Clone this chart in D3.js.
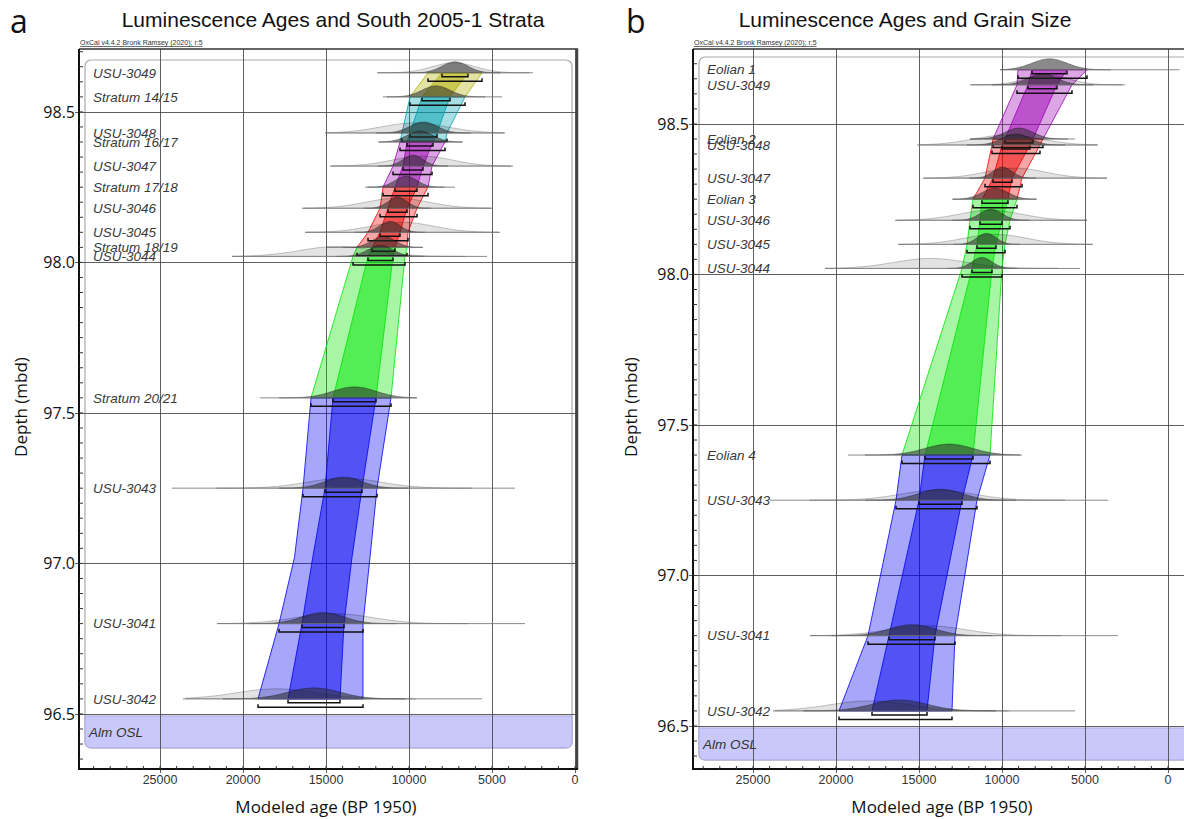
<!DOCTYPE html>
<html>
<head>
<meta charset="utf-8">
<script src="https://cdn.jsdelivr.net/npm/d3@7"></script>
<style>
body { margin: 0; background: #fff; }
svg text { font-family: Arial, "Liberation Sans", sans-serif; }
</style>
</head>
<body>
<svg id="chart" width="1184" height="819"></svg>
<script>
// unmodelled OSL likelihoods (yr BP 1950)
var sampleIds  = ["USU-3049", "USU-3048", "USU-3047", "USU-3046", "USU-3045", "USU-3044", "USU-3043", "USU-3041", "USU-3042"];
var sampleMean = [7300, 9700, 9200, 10700, 10400, 14300, 13900, 14500, 18000];
var sampleSd   = [1300, 2000, 1800, 1900, 1900, 2200, 2200, 2300, 2400];

// panel a: elements of the sequence
var aNames = ["USU-3049", "Stratum 14/15", "USU-3048", "Stratum 16/17", "USU-3047", "Stratum 17/18", "USU-3046",
    "USU-3045", "Stratum 18/19", "USU-3044", "Stratum 20/21", "USU-3043", "USU-3041", "USU-3042"];
var aDepth = [98.63, 98.55, 98.43, 98.40, 98.32, 98.25, 98.18, 98.10, 98.05, 98.02, 97.55, 97.25, 96.80, 96.55];
var aLineOld   = [11928, 11566, 15060, 11867, 14759, 12650, 16446, 16265, 14940, 20662, 18976, 24277, 21566, 23614];
var aLineYoung = [2530, 4397, 4217, 6747, 3735, 7229, 4940, 4518, 9156, 5301, 9518, 3614, 3012, 5602];

// panel a: modelled envelope (95.4% and 68.2% ranges) by depth
var aEnvDepth   = [98.63, 98.55, 98.43, 98.40, 98.32, 98.25, 98.18, 98.10, 98.05, 98.02, 97.55, 97.25, 97.02, 96.80, 96.55];
var aEnvOld95   = [8855, 9940, 10422, 10542, 10964, 11566, 11747, 12470, 13132, 13373, 15903, 16385, 16900, 17831, 19096];
var aEnvOld68   = [8012, 9217, 9940, 10120, 10361, 10843, 11265, 11747, 12229, 12470, 14578, 15060, 15800, 16446, 17289];
var aEnvYoung68 = [6446, 7530, 8313, 8554, 9157, 9518, 10120, 10542, 10843, 10964, 11988, 12831, 13434, 13915, 14156];
var aEnvYoung95 = [5602, 6626, 7711, 7831, 8614, 8855, 9518, 10060, 10120, 10241, 11084, 11928, 12349, 12771, 12771];
var aSegTop    = [98.63, 98.55, 98.40, 98.25, 98.05, 97.55];
var aSegBottom = [98.55, 98.40, 98.25, 98.05, 97.55, 96.55];
var aSegHue    = ["yellow", "cyan", "purple", "red", "green", "blue"];

// panel b
var bNames = ["Eolian 1", "USU-3049", "Eolian 2", "USU-3048", "USU-3047", "Eolian 3", "USU-3046", "USU-3045",
    "USU-3044", "Eolian 4", "USU-3043", "USU-3041", "USU-3042"];
var bDepth = [98.68, 98.63, 98.45, 98.43, 98.32, 98.25, 98.18, 98.10, 98.02, 97.40, 97.25, 96.80, 96.55];
var bLineOld   = [10120, 11928, 11928, 15120, 14759, 13012, 16446, 16265, 20662, 19277, 23976, 21566, 23795];
var bLineYoung = [-700, 2590, 5602, 4217, 3675, 7891, 4880, 4518, 5301, 8795, 3614, 3012, 5602];

var bEnvDepth   = [98.68, 98.63, 98.45, 98.43, 98.32, 98.25, 98.18, 98.10, 98.02, 97.40, 97.25, 96.80, 96.55];
var bEnvOld95   = [9036, 9096, 10542, 10602, 11024, 11747, 11928, 12108, 12410, 16024, 16385, 18072, 19819];
var bEnvOld68   = [8193, 8434, 9819, 10000, 10542, 11205, 11325, 11506, 11807, 14638, 15000, 16807, 17831];
var bEnvYoung68 = [6084, 6687, 8132, 8313, 9397, 9638, 10000, 10361, 10602, 11747, 12410, 14036, 14518];
var bEnvYoung95 = [4879, 5783, 7530, 7711, 8795, 9096, 9518, 9819, 10000, 10723, 11506, 12831, 13012];
var bSegTop    = [98.68, 98.45, 98.25, 97.40];
var bSegBottom = [98.45, 98.25, 97.40, 96.55];
var bSegHue    = ["purple", "red", "green", "blue"];

var ageTicks = [25000, 20000, 15000, 10000, 5000, 0];
var depthTicks = [98.5, 98.0, 97.5, 97.0, 96.5];


var palette = {
    yellow: "#b0b000", cyan: "#00a0b0", purple: "#9c00b4",
    red: "#f00000", green: "#00e600", blue: "#0000f0"
};

var svg = d3.select("#chart");


function DrawPanel(p) {
    var x = d3.scaleLinear().domain(p.ageDomain).range(p.xRange);
    var y = d3.scaleLinear().domain(p.depthDomain).range(p.yRange);
    var x0 = p.xRange[0], x1 = p.xRange[1], y0 = p.yRange[0], y1 = p.yRange[1];
    var g = svg.append("g");

    g.append("text").attr("x", p.letterX).attr("y", 33)
        .style("font-family", "'Open Sans', sans-serif").style("font-size", "32px").attr("fill", "#111").text(p.letter);
    g.append("text").attr("x", p.titleX).attr("y", 27).attr("text-anchor", "middle")
        .style("font-size", "21px").attr("fill", "#111").text(p.title);
    g.append("text").attr("x", x0 + 1).attr("y", 45)
        .style("font-size", "7px").style("text-decoration", "underline").attr("fill", "#333")
        .text("OxCal v4.4.2 Bronk Ramsey (2020); r:5");

    // rounded box and Alm OSL
    var boxTop = y0 + p.boxInset, boxBottom = y(96.5) + 34;
    g.append("rect").attr("x", x0 + 6).attr("y", boxTop).attr("width", p.boxWidth).attr("height", boxBottom - boxTop)
        .attr("rx", 6).attr("fill", "none").attr("stroke", "#aaa").attr("stroke-width", 1.2);
    g.append("path")
        .attr("d", "M" + (x0 + 6) + "," + (y(96.5) + 2) + "H" + (x0 + 6 + p.boxWidth) + "V" + (boxBottom - 6) +
            "Q" + (x0 + 6 + p.boxWidth) + "," + boxBottom + " " + (x0 + p.boxWidth) + "," + boxBottom +
            "H" + (x0 + 12) + "Q" + (x0 + 6) + "," + boxBottom + " " + (x0 + 6) + "," + (boxBottom - 6) + "Z")
        .attr("fill", "#c8c8fa").attr("stroke", "#a8a8e0");
    g.append("text").attr("x", x0 + 10).attr("y", y(96.5) + 18).attr("dy", "0.35em")
        .style("font-size", "13.5px").style("font-style", "italic").attr("fill", "#333").text("Alm OSL");

    // grid
    g.selectAll(".vgrid").data(ageTicks).enter().append("line")
        .attr("x1", function(d) { return Math.round(x(d)) + 0.5; }).attr("x2", function(d) { return Math.round(x(d)) + 0.5; })
        .attr("y1", y0).attr("y2", y1 + 4)
        .attr("stroke", "#444").attr("stroke-opacity", 0.85);
    g.selectAll(".hgrid").data(depthTicks).enter().append("line")
        .attr("x1", x0 - 4).attr("x2", x1)
        .attr("y1", function(d) { return Math.round(y(d)) + 0.5; }).attr("y2", function(d) { return Math.round(y(d)) + 0.5; })
        .attr("stroke", "#444").attr("stroke-opacity", 0.85);

    // colored sequence envelopes
    var env = p.envDepth.map(function(d, i) {
        return { depth: d, o95: p.envOld95[i], o68: p.envOld68[i], y68: p.envYoung68[i], y95: p.envYoung95[i] };
    });
    p.segTop.forEach(function(top, i) {
        var rows = env.filter(function(r) { return r.depth <= top + 1e-6 && r.depth >= p.segBottom[i] - 1e-6; });
        var col = palette[p.segHue[i]];
        var outer = d3.area().y(function(r) { return y(r.depth); })
            .x0(function(r) { return x(r.o95); }).x1(function(r) { return x(r.y95); });
        var inner = d3.area().y(function(r) { return y(r.depth); })
            .x0(function(r) { return x(r.o68); }).x1(function(r) { return x(r.y68); });
        g.append("path").attr("d", outer(rows)).attr("fill", col).attr("fill-opacity", 0.35)
            .attr("stroke", col).attr("stroke-opacity", 0.8);
        g.append("path").attr("d", inner(rows)).attr("fill", col).attr("fill-opacity", 0.5)
            .attr("stroke", col).attr("stroke-opacity", 0.8);
    });

    function EnvAt(depth) {
        for (var i = 0; i < env.length; i++) {
            if (Math.abs(env[i].depth - depth) < 1e-6) return env[i];
        }
        return env[0];
    }

    function Hump(mean, sd, h, lo, hi, base) {
        var pts = d3.range(0, 81).map(function(k) { return mean - 3.5 * sd + k * 7 * sd / 80; })
            .filter(function(a) { return a <= lo && a >= hi; });
        return d3.area().x(function(a) { return x(a); }).y0(base)
            .y1(function(a) { var z = (a - mean) / sd; return base - h * Math.exp(-0.5 * z * z); })(pts);
    }

    // elements: likelihood, posterior, baseline, brackets, label
    p.names.forEach(function(name, i) {
        var base = y(p.depth[i]);
        var e = EnvAt(p.depth[i]);
        var si = sampleIds.indexOf(name);
        if (si >= 0) {
            g.append("path").attr("d", Hump(sampleMean[si], sampleSd[si], 10, p.lineOld[i], p.lineYoung[i], base))
                .attr("fill", "#000").attr("fill-opacity", 0.11).attr("stroke", "#000").attr("stroke-opacity", 0.22);
        }
        var pm = (e.o68 + e.y68) / 2, ps = (e.o68 - e.y68) / 2;
        g.append("path").attr("d", Hump(pm, ps, 11, p.lineOld[i], p.lineYoung[i], base))
            .attr("fill", "#2a2a2a").attr("fill-opacity", 0.55).attr("stroke", "#000").attr("stroke-opacity", 0.3);
        g.append("line").attr("x1", x(p.lineOld[i])).attr("x2", x(p.lineYoung[i]))
            .attr("y1", base).attr("y2", base).attr("stroke", "#777").attr("stroke-opacity", 0.85);

        [[e.o68, e.y68, 4], [e.o95, e.y95, 8.5]].forEach(function(b) {
            var by = base + b[2];
            g.append("path")
                .attr("d", "M" + x(b[0]) + "," + (by - 3) + "V" + by + "H" + x(b[1]) + "V" + (by - 3))
                .attr("fill", "none").attr("stroke", "#111").attr("stroke-width", 1.5);
        });

        g.append("text").attr("x", x0 + 14).attr("y", base).attr("dy", "0.35em")
            .style("font-size", "13.5px").style("font-style", "italic").attr("fill", "#3a3a3a").text(name);
    });

    // frame and ticks
    g.append("line").attr("x1", x0).attr("x2", x1 + 1).attr("y1", y0).attr("y2", y0).attr("stroke", "#333").attr("stroke-width", 1.5);
    g.append("line").attr("x1", x1).attr("x2", x1).attr("y1", y0).attr("y2", y1).attr("stroke", "#444").attr("stroke-width", 2.5);
    g.append("line").attr("x1", x0).attr("x2", x0).attr("y1", y0).attr("y2", y1 + 1).attr("stroke", "#111").attr("stroke-width", 2);
    g.append("line").attr("x1", x0 - 1).attr("x2", x1 + 1).attr("y1", y1).attr("y2", y1).attr("stroke", "#111").attr("stroke-width", 2);

    var minorAges = d3.range(-1000, 30001, 1000).filter(function(a) { var px = x(a); return px > x0 + 1 && px < x1 - 1; });
    g.selectAll(".xminor").data(minorAges).enter().append("line")
        .attr("x1", function(d) { return x(d); }).attr("x2", function(d) { return x(d); })
        .attr("y1", y1 - 3).attr("y2", y1).attr("stroke", "#333");
    var minorDepths = d3.range(96.35, 98.76, 0.05).filter(function(d) { var py = y(d); return py > y0 + 2 && py < y1 - 2; });
    g.selectAll(".yminor").data(minorDepths).enter().append("line")
        .attr("x1", x0).attr("x2", x0 + 4)
        .attr("y1", function(d) { return y(d); }).attr("y2", function(d) { return y(d); }).attr("stroke", "#333");

    g.selectAll(".xlab").data(ageTicks).enter().append("text")
        .attr("x", function(d) { return x(d); }).attr("y", y1 + 15).attr("text-anchor", "middle")
        .style("font-size", "12.5px").attr("fill", "#333").text(function(d) { return d; });
    g.selectAll(".ylab").data(depthTicks).enter().append("text")
        .attr("x", x0 - 4).attr("y", function(d) { return y(d); }).attr("dy", "0.36em").attr("text-anchor", "end")
        .style("font-family", "'Open Sans', sans-serif").style("font-size", "16px").attr("fill", "#111")
        .text(function(d) { return d3.format(".1f")(d); });

    g.append("text").attr("x", p.xTitleX).attr("y", 813).attr("text-anchor", "middle")
        .style("font-family", "'Open Sans', sans-serif").style("font-size", "17px").attr("fill", "#111")
        .text("Modeled age (BP 1950)");
    g.append("text").attr("transform", "translate(" + p.yTitleX + "," + 407 + ") rotate(-90)").attr("text-anchor", "middle")
        .style("font-family", "'Open Sans', sans-serif").style("font-size", "17px").attr("fill", "#111")
        .text("Depth (mbd)");
}


DrawPanel({
    letter: "a", letterX: 10, title: "Luminescence Ages and South 2005-1 Strata", titleX: 333,
    ageDomain: [29880, -120], xRange: [79, 577], depthDomain: [98.709, 96.317], yRange: [49, 769],
    boxInset: 11, boxWidth: 487, xTitleX: 326, yTitleX: 27,
    names: aNames, depth: aDepth, lineOld: aLineOld, lineYoung: aLineYoung,
    envDepth: aEnvDepth, envOld95: aEnvOld95, envOld68: aEnvOld68, envYoung68: aEnvYoung68, envYoung95: aEnvYoung95,
    segTop: aSegTop, segBottom: aSegBottom, segHue: aSegHue
});

DrawPanel({
    letter: "b", letterX: 626, title: "Luminescence Ages and Grain Size", titleX: 905,
    ageDomain: [28614, -1386], xRange: [693, 1191], depthDomain: [98.749, 96.357], yRange: [49, 769],
    boxInset: 8, boxWidth: 510, xTitleX: 942, yTitleX: 637,
    names: bNames, depth: bDepth, lineOld: bLineOld, lineYoung: bLineYoung,
    envDepth: bEnvDepth, envOld95: bEnvOld95, envOld68: bEnvOld68, envYoung68: bEnvYoung68, envYoung95: bEnvYoung95,
    segTop: bSegTop, segBottom: bSegBottom, segHue: bSegHue
});
</script>
</body>
</html>
